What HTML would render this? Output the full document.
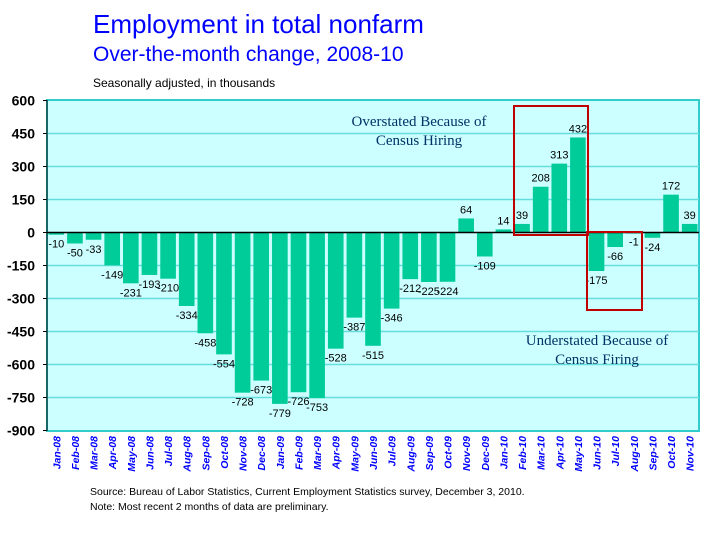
<!DOCTYPE html>
<html><head><meta charset="utf-8"><style>
body{margin:0;background:#fff;width:714px;height:535px;overflow:hidden;font-family:"Liberation Sans",sans-serif}
</style></head><body>
<svg width="714" height="535">
<text x="93" y="33" font-size="26" fill="#0000ff">Employment in total nonfarm</text>
<text x="93" y="61" font-size="21" fill="#0000ff">Over-the-month change, 2008-10</text>
<text x="93" y="87" font-size="12" fill="#000">Seasonally adjusted, in thousands</text>
<rect x="47" y="100" width="652" height="331" fill="#ccffff" stroke="#33cccc" stroke-width="2"/>
<g id="grid"></g><g id="bars"></g><g id="labels"></g><g id="xlabels"></g><g id="yticks"></g>
<line x1="47" y1="100" x2="47" y2="431" stroke="#000"/>
<rect x="514" y="106" width="74" height="129" fill="none" stroke="#c00000" stroke-width="2"/>
<rect x="587" y="232" width="55" height="78" fill="none" stroke="#c00000" stroke-width="2"/>
<text x="419" y="126" font-family="Liberation Serif" font-size="15" fill="#003366" text-anchor="middle"><tspan x="419">Overstated Because of</tspan><tspan x="419" dy="19">Census Hiring</tspan></text>
<text x="597" y="345" font-family="Liberation Serif" font-size="15" fill="#003366" text-anchor="middle"><tspan x="597">Understated Because of</tspan><tspan x="597" dy="19">Census Firing</tspan></text>
<text x="90" y="495" font-size="10.5" fill="#000">Source:  Bureau of Labor Statistics, Current Employment Statistics survey, December 3, 2010.</text>
<text x="90" y="510" font-size="10.5" fill="#000">Note: Most recent 2 months of data are preliminary.</text>
</svg>
<script>
const categories=["Jan-08","Feb-08","Mar-08","Apr-08","May-08","Jun-08","Jul-08","Aug-08","Sep-08","Oct-08","Nov-08","Dec-08","Jan-09","Feb-09","Mar-09","Apr-09","May-09","Jun-09","Jul-09","Aug-09","Sep-09","Oct-09","Nov-09","Dec-09","Jan-10","Feb-10","Mar-10","Apr-10","May-10","Jun-10","Jul-10","Aug-10","Sep-10","Oct-10","Nov-10"];
const values=[-10,-50,-33,-149,-231,-193,-210,-334,-458,-554,-728,-673,-779,-726,-753,-528,-387,-515,-346,-212,-225,-224,64,-109,14,39,208,313,432,-175,-66,-1,-24,172,39];
const yTicks=[600,450,300,150,0,-150,-300,-450,-600,-750,-900];
const NS="http://www.w3.org/2000/svg";
const L=47,R=699,T=100.5,B=430.5,YMAX=600,YMIN=-900;
const y=v=>T+(YMAX-v)/(YMAX-YMIN)*(B-T);
const cw=(R-L)/categories.length;
const x=i=>L+i*cw;
function mk(tag,parent,attrs){const e=document.createElementNS(NS,tag);for(const k in attrs)e.setAttribute(k,attrs[k]);document.getElementById(parent).appendChild(e);return e;}
yTicks.forEach(t=>{
  if(t!==0&&t!==YMAX&&t!==YMIN){const g=mk('line','grid',{x1:L,x2:R,y1:y(t),y2:y(t),stroke:'#66dddd','stroke-width':1.5});
  
  }
  const tk=mk('line','yticks',{x1:L-4,x2:L,y1:y(t),y2:y(t),stroke:'#000'});
  
  
  const tx=mk('text','yticks',{x:L-12,y:y(t)+5,'text-anchor':'end','font-size':14,'font-weight':'bold','font-family':'Liberation Sans',fill:'#000'});
  tx.textContent=t;
  
  
});
values.forEach((v,i)=>{
  const y0=y(0),yv=y(v);
  const r=mk('rect','bars',{x:x(i)+1.5,width:cw-3,y:Math.min(y0,yv),height:Math.max(Math.abs(yv-y0),1),fill:'#00cc99'});
  
  
  const t=mk('text','labels',{x:x(i)+cw/2,y:v>=0?yv-5:yv+13,'text-anchor':'middle','font-size':11,fill:'#000'});
  t.textContent=v;
  
  
  const cx=x(i)+cw/2+4;
  const xl=mk('text','xlabels',{x:cx,y:436,transform:`rotate(-90 ${cx} 436)`,'text-anchor':'end','font-size':10.5,'font-weight':'bold','font-style':'italic',fill:'#0000ff'});
  xl.textContent=categories[i];
  
  
});
const z=mk('line','yticks',{x1:L,x2:R,y1:y(0),y2:y(0),stroke:'#000','stroke-width':1.5});


</script>
</body></html>
